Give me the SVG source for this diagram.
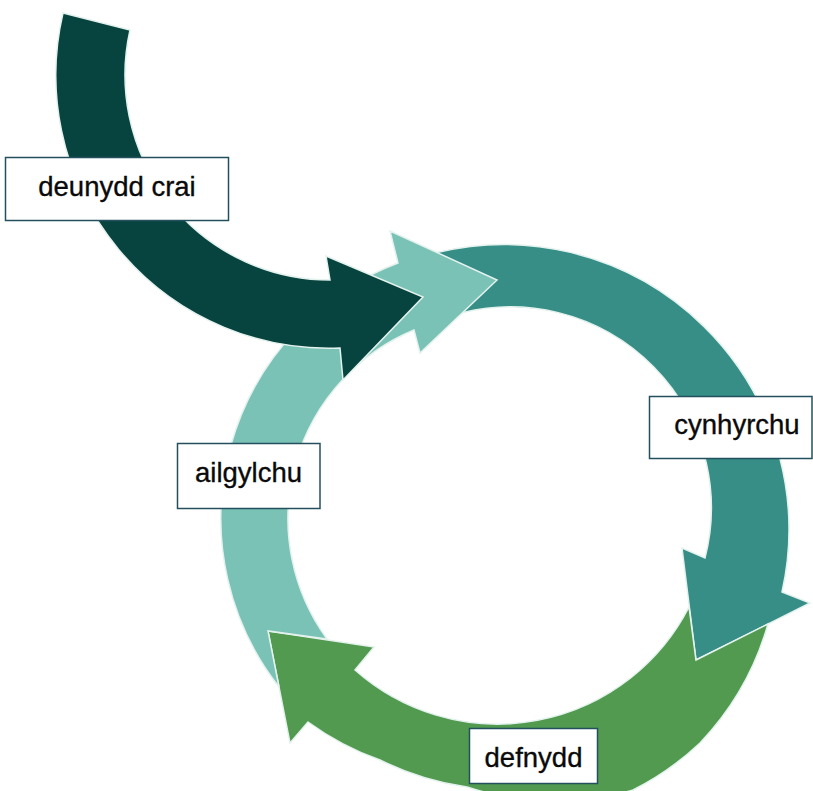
<svg xmlns="http://www.w3.org/2000/svg" width="813" height="791" viewBox="0 0 813 791">
  <style>
    .arr { stroke: #e4f2ee; stroke-width: 1.5; stroke-linejoin: miter; }
    .box { fill: #ffffff; stroke: #23505c; stroke-width: 1.5; }
    .lbl { font-family: "Liberation Sans", Arial, sans-serif; font-size: 27.5px; fill: #0a0a0a; stroke: #0a0a0a; stroke-width: 0.35; text-anchor: middle; }
  </style>
  <rect x="0" y="0" width="813" height="791" fill="#ffffff"/>
  <g id="connectors">
    <path id="arc-cynhyrchu" class="arr" fill="#368e87" d="M 437 252.5 A 285 285 0 0 1 782 592 L 810 603 L 696 660 L 682 548 L 705 558 A 201 201 0 0 0 463 312.5 Z"/>
    <path id="arc-defnydd" class="arr" fill="#519a4f" d="M 768 624 A 285 285 0 0 1 700 743 A 285 285 0 0 1 633 790 A 285 285 0 0 1 467 787 A 285 285 0 0 1 380 760 A 285 285 0 0 1 308 722 L 290 743 L 268 631 L 374 647 L 355 670 A 215 215 0 0 0 689 607 L 696 660 Z"/>
    <path id="arc-ailgylchu" class="arr" fill="#7ac2b6" d="M 279 687 A 273 273 0 0 1 398 263 L 390 231 L 497 280 L 420 353 L 414 330 A 204.5 204.5 0 0 0 327 639 L 268 631 Z"/>
    <path id="arc-deunydd" class="arr" fill="#08443f" d="M 63 13 A 273 273 0 0 0 340 348 L 343 380 L 423 297 L 326 256 L 330 280 A 205 205 0 0 1 130 30 Z"/>
  </g>
  <g id="node-deunydd-crai">
    <rect class="box" x="5.5" y="157.5" width="223" height="63"/>
    <text class="lbl" x="117" y="196">deunydd crai</text>
  </g>
  <g id="node-cynhyrchu">
    <rect class="box" x="649.5" y="396.5" width="162.5" height="62"/>
    <text class="lbl" x="737" y="434">cynhyrchu</text>
  </g>
  <g id="node-ailgylchu">
    <rect class="box" x="177.5" y="443.5" width="142.5" height="65"/>
    <text class="lbl" x="248.5" y="482">ailgylchu</text>
  </g>
  <g id="node-defnydd">
    <rect class="box" x="469.5" y="728.5" width="128" height="55"/>
    <text class="lbl" x="533.5" y="767">defnydd</text>
  </g>
</svg>
